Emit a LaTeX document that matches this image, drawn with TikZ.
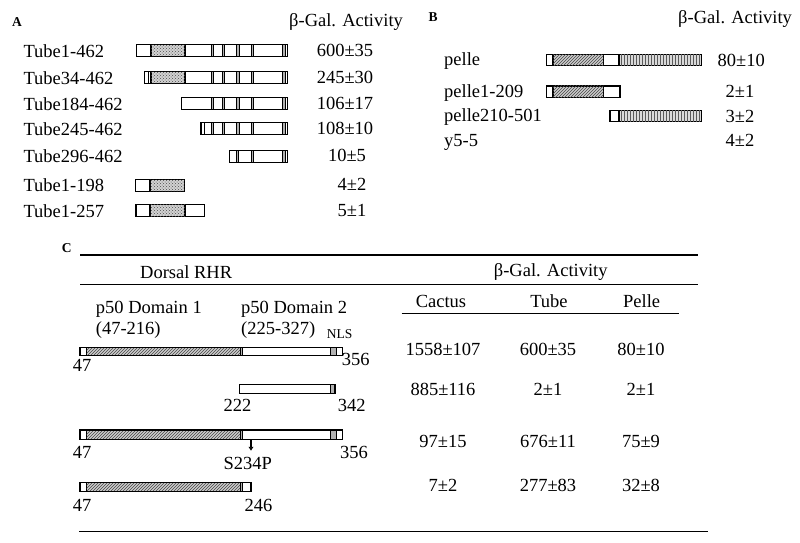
\documentclass[tikz,border=0pt]{standalone}
\usepackage{fontspec}
\setmainfont{Liberation Serif}
\usetikzlibrary{patterns,arrows.meta}
\definecolor{hatchGray}{RGB}{70,70,70}

\begin{document}
\begin{tikzpicture}[x=1pt,y=-1pt,
      font=\fontsize{18.5}{22}\selectfont,
      lbl/.style={anchor=base west,inner sep=0pt},
      val/.style={anchor=base,inner sep=0pt},
      tag/.style={anchor=base west,inner sep=0pt,font=\fontsize{13.5}{15}\selectfont\bfseries},
      box/.style={draw,line width=1.2pt},
      thin/.style={draw,line width=0.6pt},
      death/.style={fill=gray!35,postaction={pattern=crosshatch dots,pattern color=gray!60!black}},
      hatch/.style={fill=gray!40,postaction={pattern=north east lines,pattern color=hatchGray}},
      kin/.style={fill=gray!30,postaction={pattern=vertical lines,pattern color=gray!70!black}},
      rep/.style={fill=gray!60},
      rule/.style={line width=1.3pt}]
    \useasboundingbox (0,0) rectangle (800,542);

    % A: Tube deletions
    \node[tag] (tagA) at (12,26.5) {A};
    \node[lbl] (actA) at (289,26) {β-Gal. Activity};
    \foreach \y/\xa/\st in {57/136.7/{211,222,236.5,251}, 84/144.7/{211,222,236.5,251},
                            110/181.7/{211,222,236.5,251}, 135/201/{211,222,236.5,251},
                            162.7/229.3/{236,251}} {
      \draw[box,fill=white] (\xa,\y-12.5) rectangle (287.3,\y-0.5);
      \foreach \s in \st \draw[thin,rep] (\s,\y-12.5) rectangle (\s+2.5,\y-0.5);
      \draw[thin,rep] (282,\y-12.5) rectangle (285.7,\y-0.5);
      \draw[box] (\xa,\y-12.5) rectangle (287.3,\y-0.5);
    }
    \draw[box,death] (151,44.5) rectangle (185,56.5);
    \draw[box,death] (151,71.5) rectangle (185,83.5);
    \draw[thin] (148,71.5) -- (148,83.5);
    \draw[thin] (204.5,122.5) -- (204.5,134.5);
    \draw[box] (135.7,179.2) rectangle (184.3,191.2);
    \draw[box,death] (150,179.2) rectangle (184.3,191.2);
    \draw[box] (136,204.5) rectangle (204.3,216.5);
    \draw[box,death] (150,204.5) rectangle (185,216.5);
    \foreach \t/\y/\v/\vx [count=\i] in {Tube1-462/57/600±35/345, Tube34-462/84/245±30/345,
        Tube184-462/110/106±17/345, Tube245-462/135/108±10/345, Tube296-462/162.7/10±5/347,
        Tube1-198/191.7/4±2/352, Tube1-257/217/5±1/352} {
      \node[lbl] (tube\i) at (23.3,\y) {\t};
      \node[val] (actA\i) at (\vx,\y-0.8) {\v};
    }

    % B: pelle deletions
    \node[tag] (tagB) at (428.3,21.7) {B};
    \node[lbl] (actB) at (678,23.3) {β-Gal. Activity};
    \draw[box,fill=white] (546.7,54.3) rectangle (701.7,65.7);
    \draw[box,hatch] (553,54.3) rectangle (603.3,65.7);
    \draw[box,kin] (619,54.3) rectangle (701.7,65.7);
    \draw[box,fill=white] (546.7,85.9) rectangle (620,97.3);
    \draw[box,hatch] (553,85.9) rectangle (603.3,97.3);
    \draw[box,fill=white] (610,110.3) rectangle (701.7,121.7);
    \draw[box,kin] (619,110.3) rectangle (701.7,121.7);
    \foreach \t/\y/\v/\vx [count=\i] in {pelle/65.7/80±10/741.3, pelle1-209/97.3/2±1/740,
        pelle210-501/121.7/3±2/740, y5-5/146/4±2/740} {
      \node[lbl] (pelle\i) at (444,\y) {\t};
      \node[val] (actB\i) at (\vx,\y+0.5) {\v};
    }

    % C: Dorsal RHR table
    \node[tag] (tagC) at (61.7,252.7) {C};
    \draw[rule] (80,255) -- (698,255);
    \draw[rule] (80,284.3) -- (698,284.3);
    \draw[rule] (401.7,313.3) -- (679.3,313.3);
    \draw[rule] (79.3,531.5) -- (708,531.5);
    \node[lbl] (rhr) at (140,278.3) {Dorsal RHR};
    \node[val] (actC) at (550.7,276.7) {β-Gal. Activity};
    \node[val] (cactus) at (441,307) {Cactus};
    \node[val] (tube) at (549,307) {Tube};
    \node[val] (pelle) at (641.7,307) {Pelle};
    \node[lbl] (dom1) at (95.7,313.3) {p50 Domain 1};
    \node[lbl] (rng1) at (95.7,334) {(47-216)};
    \node[lbl] (dom2) at (241,313.3) {p50 Domain 2};
    \node[lbl] (rng2) at (241,334) {(225-327)};
    \node[lbl,font=\fontsize{13.5}{16}\selectfont] (nls) at (326.7,338.7) {NLS};

    % full-length and mutant rows
    \foreach \ya/\yb in {347.7/355.7, 430/439.3} {
      \draw[box,fill=white] (80,\ya) rectangle (342.3,\yb);
      \draw[box,hatch] (86.7,\ya) rectangle (240.7,\yb);
      \draw[thin,rep] (240.7,\ya) rectangle (242.2,\yb);
      \draw[thin,rep] (330,\ya) rectangle (336,\yb);
      \draw[box] (80,\ya) rectangle (342.3,\yb);
    }
    \draw[box,fill=white] (239.3,384.3) rectangle (335,393.3);
    \draw[thin,rep] (330,384.3) rectangle (335,393.3);
    \draw[box] (239.3,384.3) rectangle (335,393.3);
    \draw[box,fill=white] (80,482.7) rectangle (251,491.7);
    \draw[box,hatch] (86.7,482.7) rectangle (240.7,491.7);
    \draw[thin,rep] (240.7,482.7) rectangle (242.2,491.7);
    \draw[box] (80,482.7) rectangle (251,491.7);

    \node[lbl] (n47a) at (72.7,371.7) {47};
    \node[lbl] (n356a) at (341.7,365) {356};
    \node[val] (n222) at (237.5,411.7) {222};
    \node[val] (n342) at (351.7,411.7) {342};
    \node[lbl] (n47b) at (72.7,458.3) {47};
    \node[lbl] (n356b) at (340,458.3) {356};
    \node[val] (mut) at (247.8,469.3) {S234P};
    \node[lbl] (n47c) at (72.7,511.7) {47};
    \node[lbl] (n246) at (244.3,511.7) {246};
    \coordinate (site) at (251,439.3);
    \draw[-{Latex[length=4pt,width=5.5pt]},line width=1.6pt] (site) -- (site|-mut.north) [shorten >=6pt];

    \foreach \vc/\vt/\vp/\y [count=\i] in {1558±107/600±35/80±10/355, 885±116/2±1/2±1/395,
        97±15/676±11/75±9/447.3, 7±2/277±83/32±8/491} {
      \node[val] (cac\i) at (443,\y) {\vc};
      \node[val] (tub\i) at (548,\y) {\vt};
      \node[val] (pel\i) at (641,\y) {\vp};
    }
  \end{tikzpicture}
\end{document}
